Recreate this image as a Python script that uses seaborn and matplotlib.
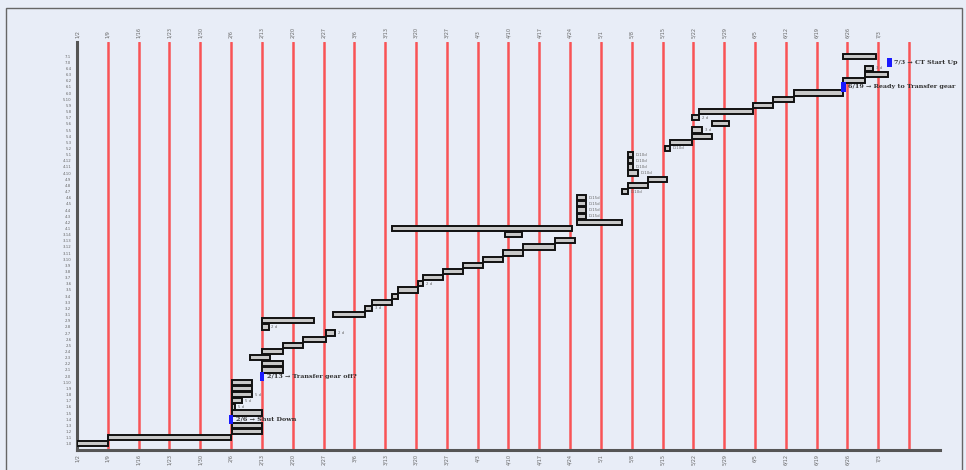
import matplotlib
matplotlib.use("Agg")
import matplotlib.pyplot as plt
from matplotlib.patches import Rectangle
import seaborn as sns
import pandas as pd

# ---------------- data ----------------
week_labels = ["1/2", "1/9", "1/16", "1/23", "1/30", "2/6", "2/13", "2/20", "2/27",
               "3/6", "3/13", "3/20", "3/27", "4/3", "4/10", "4/17", "4/24", "5/1",
               "5/8", "5/15", "5/22", "5/29", "6/5", "6/12", "6/19", "6/26", "7/3"]

task_ids = ["1.0", "1.1", "1.2", "1.3", "1.4", "1.5", "1.6", "1.7", "1.8", "1.9",
            "1.10", "2.0", "2.1", "2.2", "2.3", "2.4", "2.5", "2.6", "2.7", "2.8",
            "2.9", "3.1", "3.2", "3.3", "3.4", "3.5", "3.6", "3.7", "3.8", "3.9",
            "3.10", "3.11", "3.12", "3.13", "3.14", "4.1", "4.2", "4.3", "4.4", "4.5",
            "4.6", "4.7", "4.8", "4.9", "4.10", "4.11", "4.12", "5.1", "5.2", "5.3",
            "5.4", "5.5", "5.6", "5.7", "5.8", "5.9", "5.10", "6.0", "6.1", "6.2",
            "6.3", "6.4", "7.0", "7.1"]

task_start = [0.00, 1.01, 5.03, 5.03, 5.00, 5.03, 5.03, 5.03, 5.03, 5.03,
              5.03, 6.00, 6.00, 6.00, 5.62, 6.00, 6.69, 7.34, 8.08, 6.00,
              6.00, 8.31, 9.35, 9.58, 10.23, 10.42, 11.07, 11.23, 11.88, 12.53,
              13.18, 13.83, 14.48, 15.52, 13.90, 10.23, 16.23, 16.23, 16.23, 16.23,
              16.23, 17.69, 17.89, 18.54, 17.89, 17.89, 17.89, 17.89, 19.09, 19.25,
              19.97, 19.97, 20.62, 19.97, 20.19, 21.92, 22.60, 23.28, 24.87, 24.87,
              25.58, 25.58, 26.36, 24.87]

task_end = [1.01, 5.00, 6.00, 6.00, 5.00, 6.00, 5.13, 5.36, 5.68, 5.68,
            5.68, 6.00, 6.69, 6.69, 6.27, 6.69, 7.34, 8.08, 8.38, 6.23,
            7.69, 9.35, 9.58, 10.23, 10.42, 11.07, 11.23, 11.88, 12.53, 13.18,
            13.83, 14.48, 15.52, 16.17, 14.45, 16.07, 17.69, 16.53, 16.53, 16.53,
            16.53, 17.89, 18.54, 19.16, 18.21, 18.05, 18.05, 18.05, 19.25, 19.97,
            20.62, 20.29, 21.14, 20.19, 21.92, 22.60, 23.28, 24.87, 24.87, 25.58,
            26.30, 25.84, 26.36, 25.91]

milestone_rows = [4, 11, 58, 62]
milestone_text = ["2/6 \u2192 Shut Down", "2/13 \u2192 Transfer gear off?",
                  "6/19 \u2192 Ready to Transfer gear", "7/3 \u2192 CT Start Up"]

small_note_rows = [6, 7, 8, 18, 19, 22, 26, 37, 38, 39, 40, 41, 44, 45, 46, 47, 48, 51, 53, 61]
small_note_text = ["5 d", "5 d", "5 d", "2 d", "2 d", "3 d", "2 d", "D.15d", "D.15d",
                   "D.15d", "D.15d", "D.10d", "D.10d", "D.10d", "D.10d", "D.10d",
                   "D.10d", "3 d", "2 d", "3 d"]

# ---------------- figure ----------------
sns.set_theme(style="white")
bg = "#e8edf7"
fig = plt.figure(figsize=(9.66, 4.70), dpi=100, facecolor=bg)
fig.patches.append(Rectangle((6 / 966, -0.05), 956 / 966, 1.05 - 8 / 470,
                             transform=fig.transFigure, fill=False,
                             edgecolor="#666666", linewidth=1.0))
ax = fig.add_axes([0.0797, 0.0426, 0.8933, 0.868])
ax.set_facecolor(bg)

df = pd.DataFrame({"task": task_ids, "start": task_start, "end": task_end})
df["row"] = range(len(df))
df["dur"] = df["end"] - df["start"]
is_mile = df["row"].isin(milestone_rows)

# vertical week lines
for i in range(1, len(week_labels) + 1):
    ax.axvline(i, color="#ff2020", lw=1.8, alpha=0.75, zorder=1)

bars = df[~is_mile]
ax.barh(bars["row"], bars["dur"], left=bars["start"], height=0.85,
        color="#c8c8c8", edgecolor="#111111", linewidth=1.4, zorder=3)

miles = df[is_mile]
ax.barh(miles["row"], 0.14, left=miles["start"] - 0.07, height=1.5,
        color="#1a1aff", edgecolor="none", zorder=4)
for r, t in zip(milestone_rows, milestone_text):
    ax.text(df.loc[r, "start"] + 0.15, r, t, fontsize=4.6, fontweight="bold",
            color="#333333", va="center", ha="left", family="DejaVu Serif",
            zorder=5, clip_on=False)

for r, t in zip(small_note_rows, small_note_text):
    ax.text(df.loc[r, "end"] + 0.08, r, t, fontsize=2.8, color="#666666",
            va="center", ha="left", zorder=5)

ax.set_xlim(0, 28)
ax.set_ylim(-1, 65.3)

ax.set_xticks(range(len(week_labels)))
ax.set_xticklabels(week_labels, rotation=90, fontsize=3.5, color="#666666")
ax.tick_params(axis="x", which="both", top=True, labeltop=True, bottom=True,
               labelbottom=True, length=0, pad=3)
ax.set_yticks(df["row"])
ax.set_yticklabels(task_ids, fontsize=2.8, color="#666666")
ax.tick_params(axis="y", length=2, width=0.6, pad=2, color="#555555")

for s in ["top", "right"]:
    ax.spines[s].set_visible(False)
ax.spines["left"].set_color("#555555")
ax.spines["left"].set_linewidth(2.2)
ax.spines["bottom"].set_color("#555555")
ax.spines["bottom"].set_linewidth(2.2)

ax.set_xlabel("")
ax.set_ylabel("")

fig.savefig("out.png", dpi=100, facecolor=bg)
